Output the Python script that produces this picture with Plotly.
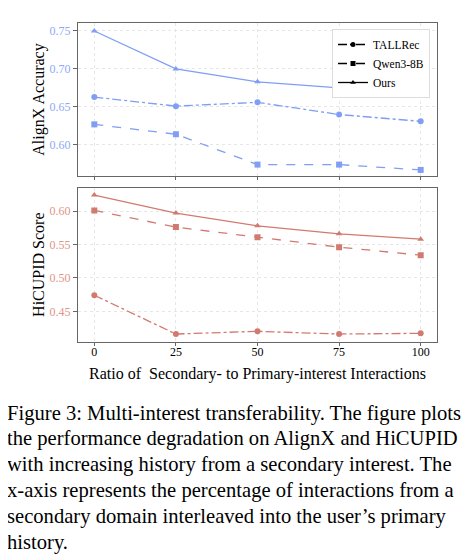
import plotly.graph_objects as go

# data
ratios = [0, 25, 50, 75, 100]
methods = ['TALLRec', 'Qwen3-8B', 'Ours']

alignx_tallrec = [0.663, 0.651, 0.656, 0.640, 0.631]
alignx_qwen = [0.627, 0.614, 0.574, 0.574, 0.567]
alignx_ours = [0.750, 0.700, 0.683, 0.675, 0.673]

hicupid_tallrec = [0.474, 0.416, 0.420, 0.416, 0.417]
hicupid_qwen = [0.601, 0.576, 0.561, 0.546, 0.534]
hicupid_ours = [0.624, 0.597, 0.578, 0.566, 0.558]

alignx_ticks = [0.60, 0.65, 0.70, 0.75]
hicupid_ticks = [0.45, 0.50, 0.55, 0.60]

caption_lines = [
    'Figure 3: Multi-interest transferability. The figure plots',
    'the performance degradation on AlignX and HiCUPID',
    'with increasing history from a secondary interest. The',
    'x-axis represents the percentage of interactions from a',
    'secondary domain interleaved into the user\u2019s primary',
    'history.',
]

BLUE = '#7f9ef4'
RED = '#d27a6f'
FONT = 'Liberation Serif'

# the page body keeps its 8px browser margin, so the figure is 16px smaller
# and positions below are given in screenshot pixels
W, H, OFF = 464, 546, 8


def fx(p):
    return (p - OFF) / W


def fy(p):
    return 1 - (p - OFF) / H


styles = {
    'TALLRec': dict(dash='dashdot', symbol='circle'),
    'Qwen3-8B': dict(dash='dash', symbol='square'),
    'Ours': dict(dash='solid', symbol='triangle-up'),
}

fig = go.Figure()

panels = [
    ('x', 'y', BLUE, [alignx_tallrec, alignx_qwen, alignx_ours]),
    ('x2', 'y2', RED, [hicupid_tallrec, hicupid_qwen, hicupid_ours]),
]
for xa, ya, color, series in panels:
    for name, vals in zip(methods, series):
        st = styles[name]
        fig.add_trace(go.Scatter(
            x=ratios, y=vals, xaxis=xa, yaxis=ya, mode='lines+markers',
            name=name, showlegend=False,
            line=dict(color=color, width=1.3, dash=st['dash']),
            marker=dict(symbol=st['symbol'], size=6, color=color),
        ))

# black legend entries like the original
for name in methods:
    st = styles[name]
    fig.add_trace(go.Scatter(
        x=[None], y=[None], mode='lines+markers', name=name,
        line=dict(color='black', width=1.3, dash=st['dash']),
        marker=dict(symbol=st['symbol'], size=5, color='black'),
    ))

axis_common = dict(
    showline=True, mirror=True, linecolor='#666666', linewidth=1,
    showgrid=True, gridcolor='#e6e6e6', griddash='dot', gridwidth=1,
    ticks='outside', tickcolor='#666666', zeroline=False,
)

fig.update_layout(
    width=W, height=H,
    margin=dict(l=0, r=0, t=0, b=0),
    paper_bgcolor='white', plot_bgcolor='white',
    font=dict(family=FONT, color='black', size=12),
    xaxis=dict(domain=[fx(78), fx(437)], range=[-5, 105], tickvals=ratios,
               showticklabels=False, anchor='y', ticklen=3, **axis_common),
    yaxis=dict(domain=[fy(176), fy(23)], range=[0.559, 0.7605],
               tickvals=alignx_ticks, tickformat='.2f', ticklen=4,
               tickfont=dict(color='#8ea9f5', size=12),
               title=dict(text='AlignX Accuracy', font=dict(size=16), standoff=0),
               anchor='x', **axis_common),
    xaxis2=dict(domain=[fx(78), fx(437)], range=[-5, 105], tickvals=ratios,
                tickfont=dict(size=12), ticklen=3, ticklabelstandoff=-4,
                title=dict(text='Ratio of\u00a0 Secondary- to Primary-interest Interactions',
                           font=dict(size=16), standoff=9),
                anchor='y2', **axis_common),
    yaxis2=dict(domain=[fy(341.7), fy(187.7)], range=[0.4045, 0.635],
                tickvals=hicupid_ticks, tickformat='.2f', ticklen=4,
                tickfont=dict(color='#e09488', size=12),
                title=dict(text='HiCUPID Score', font=dict(size=16), standoff=0),
                anchor='x2', **axis_common),
    legend=dict(x=fx(430), y=fy(29), xanchor='right', yanchor='top',
                bgcolor='white', bordercolor='#dddddd', borderwidth=1,
                font=dict(size=11.5), itemwidth=30, tracegroupgap=0),
)

for i, line in enumerate(caption_lines):
    fig.add_annotation(
        text=line, xref='paper', yref='paper', x=fx(5), y=fy(413 + i * 25.8),
        xanchor='left', yanchor='middle', showarrow=False,
        font=dict(family=FONT, size=20.6, color='black'),
    )

fig.write_html('out.html')
